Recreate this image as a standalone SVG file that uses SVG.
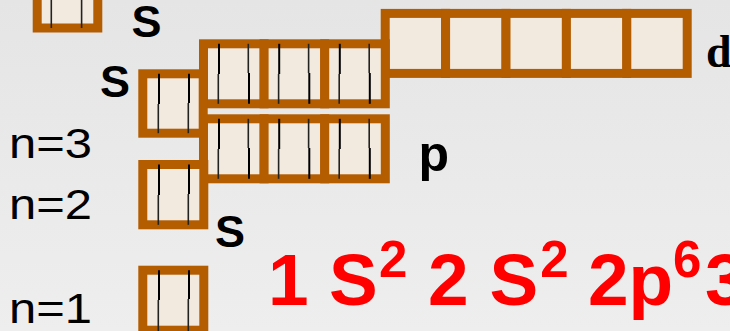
<svg xmlns="http://www.w3.org/2000/svg" width="730" height="331" viewBox="0 0 730 331">
  <defs>
    <linearGradient id="bg" x1="0" y1="0" x2="0" y2="1">
      <stop offset="0" stop-color="#e5e5e5"/>
      <stop offset="1" stop-color="#eeeeee"/>
    </linearGradient>
  </defs>
  <style>
    .box { fill: #f2eadf; stroke: #b35c00; stroke-width: 9; }
    .up { stroke: #000; stroke-width: 2; }
    .dn { stroke: #222; stroke-width: 1.6; }
    .lbl { font-family: "Liberation Sans", Arial, sans-serif; font-weight: bold; fill: #000; }
    .n { font-family: "Liberation Sans", Arial, sans-serif; font-size: 42px; fill: #000; }
    .d { font-family: "Liberation Serif", "Times New Roman", serif; font-weight: bold; font-size: 46px; fill: #000; }
    .cfg { font-family: "Liberation Sans", Arial, sans-serif; font-weight: bold; fill: #ff0000; font-size: 73px; }
    .sup { font-size: 51px; }
  </style>
  <rect x="0" y="0" width="730" height="331" fill="url(#bg)"/>

  <!-- 4s -->
  <g id="orb-4s">
    <rect class="box" x="37.2" y="-32" width="60.6" height="60"/>
    <line class="up" x1="52" y1="-32" x2="52" y2="0"/>
    <line class="dn" x1="51.3" y1="0" x2="51.3" y2="28"/>
    <line class="up" x1="82.3" y1="-32" x2="82.3" y2="0"/>
    <line class="dn" x1="81.6" y1="0" x2="81.6" y2="28"/>
  </g>

  <!-- 3d -->
  <g id="orb-3d">
    <rect class="box" x="385.2" y="13.4" width="60.4" height="60"/>
    <rect class="box" x="445.6" y="13.4" width="60.4" height="60"/>
    <rect class="box" x="506" y="13.4" width="60.4" height="60"/>
    <rect class="box" x="566.4" y="13.4" width="60.4" height="60"/>
    <rect class="box" x="626.8" y="13.4" width="60.4" height="60"/>
  </g>

  <!-- 3p -->
  <g id="orb-3p">
    <rect class="box" x="203.5" y="43.8" width="60.6" height="60"/>
    <rect class="box" x="264.1" y="43.8" width="60.6" height="60"/>
    <rect class="box" x="324.7" y="43.8" width="60.6" height="60"/>
    <line class="up" x1="219" y1="43.8" x2="219" y2="74"/>
    <line class="dn" x1="218.3" y1="74" x2="218.3" y2="103.8"/>
    <line class="dn" x1="248.3" y1="43.8" x2="248.3" y2="73"/>
    <line class="up" x1="249" y1="73" x2="249" y2="103.8"/>
    <line class="up" x1="279.2" y1="43.8" x2="279.2" y2="74"/>
    <line class="dn" x1="278.6" y1="74" x2="278.6" y2="103.8"/>
    <line class="dn" x1="308.6" y1="43.8" x2="308.6" y2="73"/>
    <line class="up" x1="309.3" y1="73" x2="309.3" y2="103.8"/>
    <line class="up" x1="339.8" y1="43.8" x2="339.8" y2="74"/>
    <line class="dn" x1="339.2" y1="74" x2="339.2" y2="103.8"/>
    <line class="dn" x1="369.2" y1="43.8" x2="369.2" y2="73"/>
    <line class="up" x1="369.8" y1="73" x2="369.8" y2="103.8"/>
  </g>

  <!-- 3s -->
  <g id="orb-3s">
    <rect class="box" x="142.8" y="73.8" width="60.4" height="59.4"/>
    <line class="up" x1="159" y1="73.8" x2="159" y2="104"/>
    <line class="dn" x1="158.3" y1="104" x2="158.3" y2="133.2"/>
    <line class="up" x1="189" y1="73.8" x2="189" y2="103"/>
    <line class="dn" x1="188.3" y1="103" x2="188.3" y2="133.2"/>
  </g>

  <!-- 2p -->
  <g id="orb-2p">
    <rect class="box" x="203.5" y="118.8" width="60.6" height="60"/>
    <rect class="box" x="264.1" y="118.8" width="60.6" height="60"/>
    <rect class="box" x="324.7" y="118.8" width="60.6" height="60"/>
    <line class="up" x1="219" y1="118.8" x2="219" y2="149"/>
    <line class="dn" x1="218.3" y1="149" x2="218.3" y2="178.8"/>
    <line class="dn" x1="248.3" y1="118.8" x2="248.3" y2="148"/>
    <line class="up" x1="249" y1="148" x2="249" y2="178.8"/>
    <line class="up" x1="279.2" y1="118.8" x2="279.2" y2="149"/>
    <line class="dn" x1="278.6" y1="149" x2="278.6" y2="178.8"/>
    <line class="dn" x1="308.6" y1="118.8" x2="308.6" y2="148"/>
    <line class="up" x1="309.3" y1="148" x2="309.3" y2="178.8"/>
    <line class="up" x1="339.8" y1="118.8" x2="339.8" y2="149"/>
    <line class="dn" x1="339.2" y1="149" x2="339.2" y2="178.8"/>
    <line class="dn" x1="369.2" y1="118.8" x2="369.2" y2="148"/>
    <line class="up" x1="369.8" y1="148" x2="369.8" y2="178.8"/>
  </g>

  <!-- 2s -->
  <g id="orb-2s">
    <rect class="box" x="142.8" y="164.5" width="61" height="60.3"/>
    <line class="up" x1="159" y1="164.5" x2="159" y2="195"/>
    <line class="dn" x1="158.3" y1="195" x2="158.3" y2="224.8"/>
    <line class="up" x1="189" y1="164.5" x2="189" y2="194"/>
    <line class="dn" x1="188.3" y1="194" x2="188.3" y2="224.8"/>
  </g>

  <!-- 1s -->
  <g id="orb-1s">
    <rect class="box" x="142.8" y="270.2" width="61" height="60"/>
    <line class="up" x1="159" y1="270.2" x2="159" y2="300"/>
    <line class="dn" x1="158.3" y1="300" x2="158.3" y2="331"/>
    <line class="up" x1="189" y1="270.2" x2="189" y2="299"/>
    <line class="dn" x1="188.3" y1="299" x2="188.3" y2="331"/>
  </g>

  <g id="labels">
    <text class="lbl" x="131.5" y="37" font-size="45">S</text>
    <text class="lbl" x="100" y="96.5" font-size="45">S</text>
    <text class="lbl" x="215" y="246.5" font-size="45">S</text>
    <text class="lbl" x="418.5" y="171" font-size="50">p</text>
    <text class="d" x="706" y="67">d</text>
    <text class="n" x="9" y="158.3" textLength="83" lengthAdjust="spacingAndGlyphs">n=3</text>
    <text class="n" x="9" y="219" textLength="83" lengthAdjust="spacingAndGlyphs">n=2</text>
    <text class="n" x="9" y="323.3" textLength="83" lengthAdjust="spacingAndGlyphs">n=1</text>
  </g>

  <g id="config">
    <text class="cfg" x="268" y="304.5">1</text>
    <text class="cfg" x="329" y="304.5">S</text>
    <text class="cfg sup" x="379" y="277.3">2</text>
    <text class="cfg" x="428" y="304.5">2</text>
    <text class="cfg" x="489.5" y="304.5">S</text>
    <text class="cfg sup" x="540.2" y="277.3">2</text>
    <text class="cfg" x="588" y="304.5">2p</text>
    <text class="cfg sup" x="673" y="277.3">6</text>
    <text class="cfg" x="705" y="304.5">3</text>
  </g>
</svg>
